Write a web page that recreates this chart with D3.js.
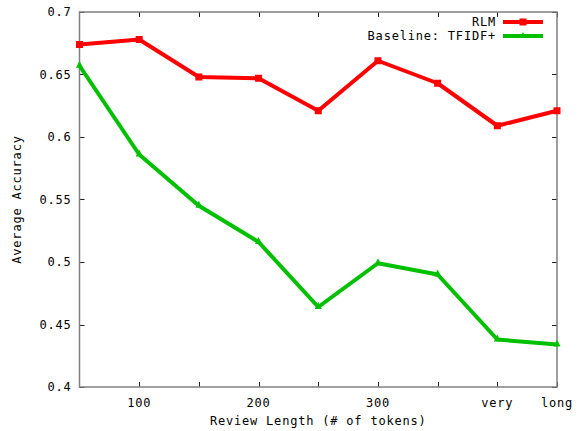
<!DOCTYPE html>
<html>
<head>
<meta charset="utf-8">
<script src="https://cdn.jsdelivr.net/npm/d3@7"></script>
<style>
  body { margin: 0; background: #fff; }
  text { font-family: "DejaVu Sans Mono", monospace; fill: #000; font-size: 12px; letter-spacing: 0.8px; }
</style>
</head>
<body>
<div id="chart"></div>
<script>
// review length buckets (400 = "very", 450 = "long")
let lengths = [50, 100, 150, 200, 250, 300, 350, 400, 450];
let rlm = [0.674, 0.678, 0.648, 0.647, 0.621, 0.661, 0.643, 0.609, 0.621];
let baseline = [0.657, 0.586, 0.545, 0.516, 0.464, 0.499, 0.490, 0.438, 0.434];

let xTickValues = [100, 200, 300, 400, 450];
let xTickLabels = ['100', '200', '300', 'very', 'long'];
let xMinorTicks = [150, 250, 350];
let yTickValues = [0.4, 0.45, 0.5, 0.55, 0.6, 0.65, 0.7];

let series = [
    { name: 'RLM', values: rlm, color: '#ff0000', marker: 'square' },
    { name: 'Baseline: TFIDF+', values: baseline, color: '#00c000', marker: 'triangle' }
];

const width = 581, height = 431;
const plotLeft = 79.5, plotRight = 557, plotTop = 12, plotBottom = 387;

let svg = d3.select('#chart').append('svg')
    .attr('width', width)
    .attr('height', height);

let xScale = d3.scaleLinear().domain([50, 450]).range([plotLeft, plotRight]);
let yScale = d3.scaleLinear().domain([0.4, 0.7]).range([plotBottom, plotTop]);

// ticks (inside the plot, on all four sides)
let tickGroup = svg.append('g').attr('stroke', '#222').attr('stroke-width', 1);
for (const v of yTickValues) {
    let y = Math.round(yScale(v)) + 0.5;
    tickGroup.append('line').attr('x1', plotLeft).attr('x2', plotLeft + 5).attr('y1', y).attr('y2', y);
    tickGroup.append('line').attr('x1', plotRight - 5).attr('x2', plotRight).attr('y1', y).attr('y2', y);
}
for (const v of xTickValues.concat(xMinorTicks)) {
    let x = Math.round(xScale(v)) + 0.5;
    tickGroup.append('line').attr('x1', x).attr('x2', x).attr('y1', plotBottom).attr('y2', plotBottom - 5);
    tickGroup.append('line').attr('x1', x).attr('x2', x).attr('y1', plotTop).attr('y2', plotTop + 5);
}

// border
svg.append('rect')
    .attr('x', plotLeft).attr('y', plotTop)
    .attr('width', plotRight - plotLeft).attr('height', plotBottom - plotTop)
    .attr('fill', 'none')
    .attr('stroke', '#808080')
    .attr('stroke-width', 1.5);

// tick labels
svg.append('g').selectAll('text').data(yTickValues).enter()
    .append('text')
        .attr('x', plotLeft - 8)
        .attr('y', (d) => yScale(d) + 4)
        .attr('text-anchor', 'end')
        .text((d) => d3.format('~g')(d));

svg.append('g').selectAll('text').data(xTickValues).enter()
    .append('text')
        .attr('x', (d) => xScale(d))
        .attr('y', 407)
        .attr('text-anchor', 'middle')
        .text((d, i) => xTickLabels[i]);

// axis titles
svg.append('text')
    .attr('x', (plotLeft + plotRight) / 2)
    .attr('y', 425)
    .attr('text-anchor', 'middle')
    .text('Review Length (# of tokens)');

svg.append('text')
    .attr('transform', `translate(21,${(plotTop + plotBottom) / 2}) rotate(-90)`)
    .attr('text-anchor', 'middle')
    .text('Average Accuracy');

// lines
let line = d3.line()
    .x((d, i) => xScale(lengths[i]))
    .y((d) => yScale(d));

function drawMarker(g, kind, x, y, color) {
    if (kind == 'square') {
        g.append('rect')
            .attr('x', x - 3.5).attr('y', y - 3.5)
            .attr('width', 7).attr('height', 7)
            .attr('fill', color);
    } else {
        g.append('path')
            .attr('d', `M${x},${y - 5}L${x + 3.5},${y + 2}L${x - 3.5},${y + 2}Z`)
            .attr('fill', color);
    }
}

let plot = svg.append('g');
for (const s of series) {
    plot.append('path')
        .attr('d', line(s.values))
        .attr('fill', 'none')
        .attr('stroke', s.color)
        .attr('stroke-width', 4)
        .attr('stroke-linejoin', 'round');
    for (let i = 0; i < s.values.length; i++) {
        drawMarker(plot, s.marker, xScale(lengths[i]), yScale(s.values[i]), s.color);
    }
}

// legend
series.forEach((s, i) => {
    let y = 22 + i * 14;
    svg.append('text')
        .attr('x', 496)
        .attr('y', y + 4)
        .attr('text-anchor', 'end')
        .text(s.name);
    svg.append('line')
        .attr('x1', 503).attr('x2', 543)
        .attr('y1', y).attr('y2', y)
        .attr('stroke', s.color)
        .attr('stroke-width', 4);
    if (s.marker == 'square') {
        drawMarker(svg, 'square', 523, y, s.color);
    } else {
        svg.append('path')
            .attr('d', `M523,${y - 4}L525,${y}L521,${y}Z`)
            .attr('fill', s.color);
    }
});
</script>
</body>
</html>
